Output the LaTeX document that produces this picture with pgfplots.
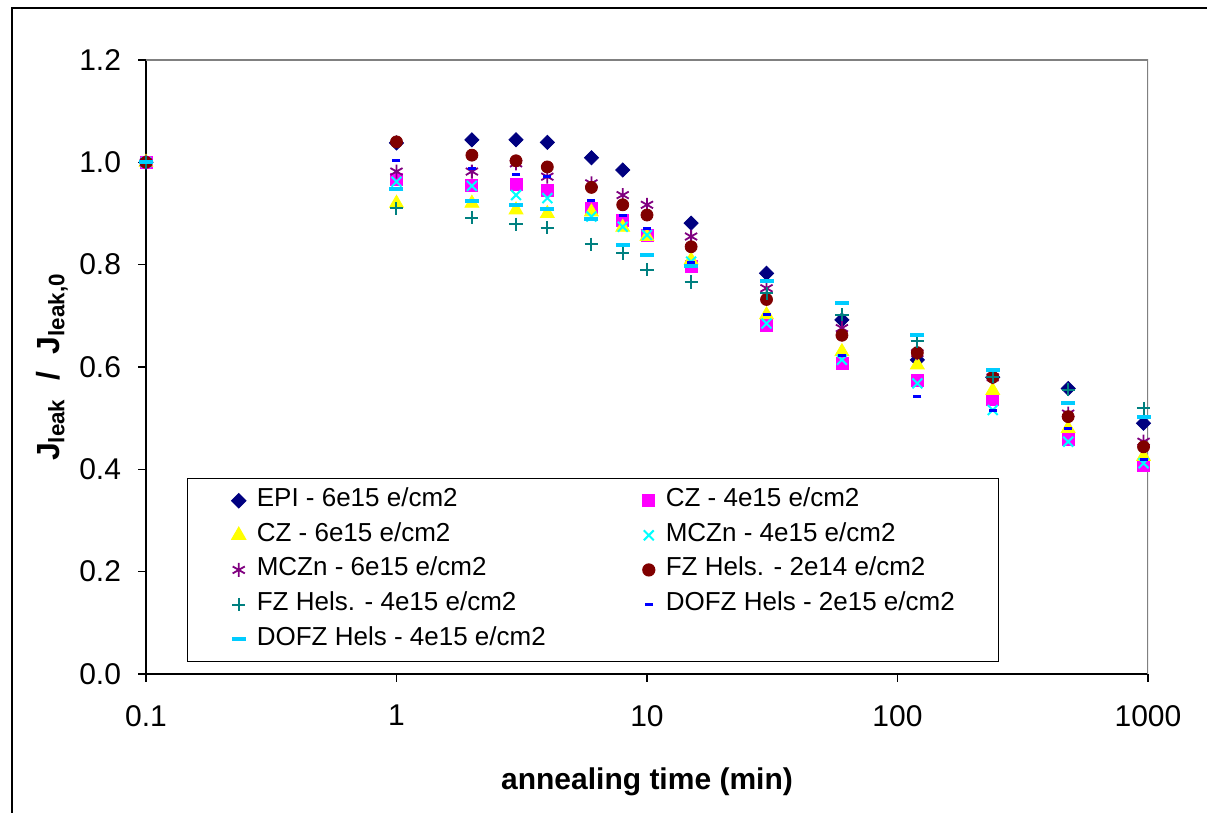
\documentclass[border=0pt]{standalone}
\usepackage{fontspec}
\setmainfont{Liberation Sans}
\usepackage{pgfplots}
\usepackage{pgfplotstable}
\pgfplotsset{compat=1.18}
\definecolor{epinavy}{RGB}{0,0,128}
\definecolor{czmag}{RGB}{255,0,255}
\definecolor{czyel}{RGB}{255,255,0}
\definecolor{mczcyan}{RGB}{0,255,255}
\definecolor{mczpurp}{RGB}{128,0,128}
\definecolor{fzred}{RGB}{128,0,0}
\definecolor{fzteal}{RGB}{0,128,128}
\definecolor{dofzblue}{RGB}{0,0,255}
\definecolor{dofzsky}{RGB}{0,204,255}

% annealing time (min) vs normalised leakage current
\pgfplotstableread{
t     epi    cz4    cz6    mcz4   mcz6   fz2    fz4    dofz2  dofz4
0.1   1.000  1.000  1.000  1.000  1.000  1.000  1.000  1.000  1.000
1     1.038  0.967  0.920  0.962  0.982  1.040  0.910  1.003  0.947
2     1.044  0.954  0.920  0.954  0.982  1.014  0.892  0.987  0.924
3     1.044  0.956  0.907  0.936  0.998  1.003  0.879  0.977  0.917
4     1.039  0.945  0.900  0.930  0.972  0.991  0.872  0.972  0.909
6     1.009  0.910  0.903  0.894  0.959  0.951  0.840  0.925  0.889
8     0.985  0.887  0.873  0.874  0.936  0.917  0.822  0.897  0.838
10    nan    0.858  0.855  0.858  0.917  0.897  0.790  0.870  0.819
15    0.881  0.796  0.809  0.806  0.855  0.835  0.766  0.804  0.797
30    0.783  0.682  0.702  0.685  0.754  0.732  0.744  0.702  0.768
60    0.692  0.607  0.630  0.614  0.676  0.662  0.702  0.623  0.726
120   0.614  0.573  0.604  0.568  0.627  0.628  0.650  0.542  0.662
240   0.580  0.537  0.554  0.516  0.580  0.580  0.581  0.514  0.595
480   0.558  0.459  0.480  0.454  0.509  0.503  0.556  0.479  0.530
960   0.490  0.408  0.425  0.412  0.454  0.444  0.519  0.420  0.503
}\leak

\newcommand{\lw}[1]{\makebox[185pt][l]{#1}}

\begin{document}
\begin{tikzpicture}
\path[use as bounding box] (-73pt,-69.5pt) rectangle (530.5pt,337pt);
\draw[line width=0.8pt] (-67pt,-90pt) -- (-67pt,333pt) -- (560pt,333pt);
\begin{axis}[
  scale only axis, width=501pt, height=307pt,
  xmode=log, xmin=0.1, xmax=1000, ymin=0, ymax=1.2,
  xtick={0.1,1,10,100,1000}, xticklabels={0.1,1,10,100,1000},
  ytick={0,0.2,0.4,0.6,0.8,1.0,1.2}, xminorticks=false,
  axis x line*=bottom, axis y line*=left,
  axis line style={black, line width=0.6pt}, separate axis lines,
  x axis line style={-}, y axis line style={-},
  tick align=outside, major tick length=4pt,
  tick style={black, line width=0.6pt},
  /pgf/number format/.cd, fixed, fixed zerofill, precision=1, assume math mode=true,
  /pgfplots/.cd,
  tick label style={font=\fontsize{15}{18}\selectfont},
  yticklabel style={xshift=-5pt},
  xticklabel style={yshift=-8pt},
  xlabel={\textbf{annealing time (min)}},
  xlabel style={at={(axis description cs:0.5,0)}, anchor=center, yshift=-54pt,
    font=\fontsize{15}{18}\selectfont},
  ylabel={\textbf{J\textsubscript{leak} \ / \ J\textsubscript{leak,0}}},
  ylabel style={at={(axis description cs:0,0.5)}, anchor=center, yshift=47pt,
    font=\fontsize{16}{19}\selectfont},
  legend columns=2, legend cell align=left,
  legend image code/.code={\draw[#1] plot coordinates {(0pt,0pt)};},
  legend style={at={(rel axis cs:0.041,0.319)}, anchor=north west,
    draw=black, line width=0.6pt, fill=white,
    font=\fontsize{13}{15}\selectfont,
    inner xsep=22pt, inner ysep=5pt, row sep=5.3pt,
    nodes={inner xsep=0pt, inner ysep=0pt, text height=9pt, text depth=3pt},
    /tikz/every odd column/.append style={column sep=5.5pt},
    /tikz/every even column/.append style={column sep=8pt}},
]
\addplot[only marks, mark=square*, mark size=2.5pt, color=epinavy,
  mark options={rotate=45}] table[x=t,y=epi] {\leak};
\addlegendentry{\lw{EPI - 6e15 e/cm2}}
\addplot[only marks, mark=square*, mark size=3pt, color=czmag] table[x=t,y=cz4] {\leak};
\addlegendentry{CZ - 4e15 e/cm2}
\addplot[only marks, mark=triangle*, mark size=4pt, color=czyel] table[x=t,y=cz6] {\leak};
\addlegendentry{\lw{CZ - 6e15 e/cm2}}
\addplot[only marks, mark=x, mark size=3.5pt, color=mczcyan, line width=1pt] table[x=t,y=mcz4] {\leak};
\addlegendentry{MCZn - 4e15 e/cm2}
\addplot[only marks, mark=asterisk, mark size=3.5pt, color=mczpurp, line width=0.9pt] table[x=t,y=mcz6] {\leak};
\addlegendentry{\lw{MCZn - 6e15 e/cm2}}
\addplot[only marks, mark=*, mark size=3pt, color=fzred] table[x=t,y=fz2] {\leak};
\addlegendentry{FZ Hels. - 2e14 e/cm2}
\addplot[only marks, mark=+, mark size=3.3pt, color=fzteal, line width=1pt] table[x=t,y=fz4] {\leak};
\addlegendentry{\lw{FZ Hels. - 4e15 e/cm2}}
\addplot[only marks, mark=-, mark size=2pt, color=dofzblue, line width=1.5pt] table[x=t,y=dofz2] {\leak};
\addlegendentry{DOFZ Hels - 2e15 e/cm2}
\addplot[only marks, mark=-, mark size=3.5pt, color=dofzsky, line width=2pt] table[x=t,y=dofz4] {\leak};
\addlegendentry{\lw{DOFZ Hels - 4e15 e/cm2}}
\draw[gray, line width=0.8pt] (rel axis cs:0,1) -- (rel axis cs:1,1) -- (rel axis cs:1,0);
\end{axis}
\end{tikzpicture}
\end{document}
